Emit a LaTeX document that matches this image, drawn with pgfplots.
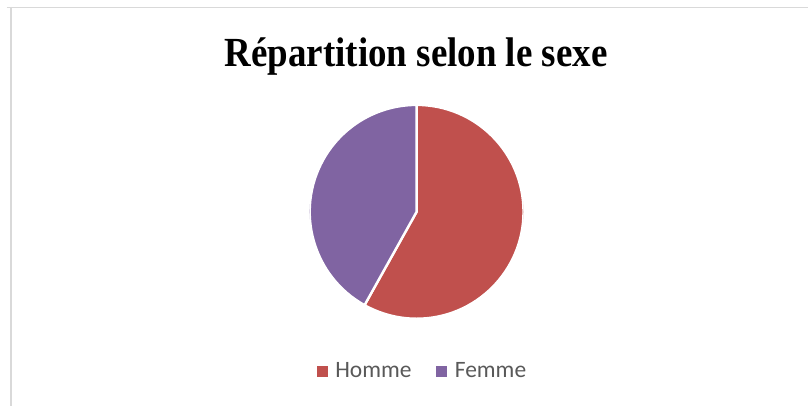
\documentclass[border=0pt]{standalone}
\usepackage{pgfplots}
\pgfplotsset{compat=1.18}
\usepackage{pgfplotstable}
\usepackage{fontspec}
\setmainfont{Liberation Serif}
\newfontfamily\carlito{Carlito}
\usepackage{graphicx}

\definecolor{hommecol}{HTML}{C0504D}
\definecolor{femmecol}{HTML}{8064A2}
\definecolor{legtext}{HTML}{595959}
\definecolor{framecol}{HTML}{D9D9D9}

% parts in percent
\pgfplotstableread{
label value
Homme 58.1
Femme 41.9
}\piedata

\begin{document}
\pgfplotstablegetelem{0}{value}\of\piedata
\let\vH\pgfplotsretval
\pgfplotstablegetelem{1}{value}\of\piedata
\let\vF\pgfplotsretval
\begin{tikzpicture}[x=1pt,y=1pt]
\path (0,0) rectangle (809,406);
\draw[framecol, line width=1.5pt] (7,398.5) -- (809,398.5);
\draw[framecol, line width=1.5pt] (11,399) -- (11,0);

\node[anchor=base] at (416.5,339.3)
  {\scalebox{1}[1.12]{\fontsize{37}{40}\selectfont\bfseries Répartition selon le sexe}};

\begin{axis}[
  at={(417pt,194pt)}, anchor=origin,
  width=214pt, height=214pt,
  scale only axis,
  hide axis,
  xmin=-1, xmax=1, ymin=-1, ymax=1,
  legend columns=2,
  legend image code/.code={\fill[#1] (0pt,-5pt) rectangle (10pt,5pt);},
  legend style={
    at={(0.523,-0.245)}, anchor=center,
    draw=none, fill=none,
    font=\carlito\fontsize{23.5}{26}\selectfont,
    text=legtext,
    nodes={inner xsep=0pt, inner ysep=1pt},
    /tikz/every odd column/.append style={column sep=8pt},
    /tikz/every even column/.append style={column sep=25pt},
  },
]
\fill[hommecol, draw=white, line width=2.4pt]
  (axis cs:0,0) -- (axis cs:0,1)
  arc[start angle=90, end angle={90-3.6*\vH}, radius=107pt] -- cycle;
\fill[femmecol, draw=white, line width=2.4pt]
  (axis cs:0,0) -- (axis cs:{cos(90-3.6*\vH)},{sin(90-3.6*\vH)})
  arc[start angle={90-3.6*\vH}, end angle={90-3.6*\vH-3.6*\vF}, radius=107pt] -- cycle;
\addlegendimage{hommecol}
\addlegendentry{Homme}
\addlegendimage{femmecol}
\addlegendentry{Femme}
\end{axis}
\end{tikzpicture}
\end{document}
